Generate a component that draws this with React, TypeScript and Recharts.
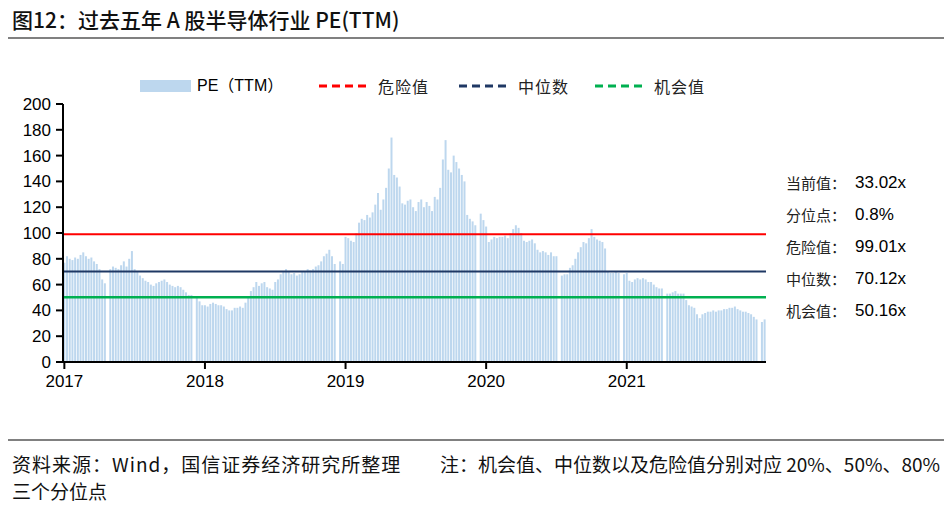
import React from 'react';
import {
  ComposedChart,
  Bar,
  XAxis,
  YAxis,
  ReferenceLine,
} from 'recharts';

// weekly PE(TTM), 52 weeks per year, 2017-2021 (null = no bar that week)
const pe2017 = [
  77, 82, 80, 79, 81, 80, 83, 85, 82, 80, 81, 78, 76, 72, 64, 61, null, 72, 74, 73,
  72, 75, 78, 74, 80, 86, 72, 70, 67, 65, 63, 62, 60, 59, 61, 62, 63, 64, 62, 60,
  59, 58, 59, 58, 56, 54, 52, 52, null, 51, 47, 44,
];
const pe2018 = [
  44, 43, 45, 46, 45, 44, 44, 43, 41, 40, 40, 42, 42, 43, 42, 46, 50, 55, 58, 62,
  59, 61, 62, 58, 57, 56, 62, 64, 68, 70, 72, 70, 68, 69, 67, 68, 70, 70, 72, 71,
  72, 74, 75, 78, 82, 84, 87, 82, 76, null, 78, 76,
];
const pe2019 = [
  97, 96, 94, 93, 100, 108, 111, 110, 114, 112, 116, 122, 131, 118, 126, 135, 150, 174, 145, 143,
  136, 123, 122, 125, 126, 120, 117, 124, 126, 120, 124, 121, 117, 128, 126, 135, 157, 172, 149, 147,
  160, 155, 150, 145, 140, 114, 111, 109, 106, null, 115, 110,
];
const pe2020 = [
  105, 93, 95, 97, 96, 97, 97, 98, 96, 100, 103, 106, 104, 100, 94, 93, 94, 95, 92, 87,
  85, 86, 85, 83, 85, 82, 82, null, 67, 68, 68, 73, 75, 80, 85, 89, 93, 92, 96, 103,
  97, 95, 94, 93, 88, 70, 69, 69, 70, 69, null, 68,
];
const pe2021 = [
  69, 63, 62, 64, 65, 64, 65, 64, 62, 62, 60, 58, 57, 57, null, 53, 53, 54, 55, 53,
  53, 53, 48, 44, 43, 42, 37, 34, 37, 38, 39, 39, 40, 39, 40, 40, 41, 41, 42, 42,
  43, 41, 40, 39, 39, 38, 37, 35, 33, null, 31, 33.02,
];

const years = ['2017', '2018', '2019', '2020', '2021'];
const yTicks = [0, 20, 40, 60, 80, 100, 120, 140, 160, 180, 200];

const dangerValue = 99.01;
const medianValue = 70.12;
const chanceValue = 50.16;

const statLabels = ['当前值：', '分位点：', '危险值：', '中位数：', '机会值：'];
const statValues = ['33.02x', '0.8%', '99.01x', '70.12x', '50.16x'];

const byYear = [pe2017, pe2018, pe2019, pe2020, pe2021];
const rows = byYear.flatMap((vals, yi) =>
  vals.map((v, wi) => ({ week: `${years[yi]}-${wi + 1}`, pe: v }))
);
const yearTicks = years.map((y) => `${y}-1`);

const CJK = '"Noto Sans CJK SC", sans-serif';
const LATIN = '"Liberation Sans", Arial, sans-serif';

function DashSample({ color }: { color: string }) {
  return (
    <svg width={48} height={6} style={{ display: 'block' }}>
      <line x1={0} y1={3} x2={48} y2={3} stroke={color} strokeWidth={3} strokeDasharray="8 5" />
    </svg>
  );
}

export default function App() {
  const legendLines = [
    { label: '危险值', color: '#ff0000', x: 319 },
    { label: '中位数', color: '#1f3864', x: 459 },
    { label: '机会值', color: '#00b050', x: 595 },
  ];

  return (
    <div
      style={{
        position: 'absolute',
        left: 0,
        top: 0,
        width: 952,
        height: 507,
        background: '#fff',
        overflow: 'hidden',
      }}
    >
      <div style={{ position: 'absolute', left: 0, top: 0 }}>
        <ComposedChart
          width={952}
          height={507}
          data={rows}
          margin={{ top: 104, right: 186, bottom: 115, left: 13 }}
          barCategoryGap="12%"
        >
          <XAxis
            dataKey="week"
            ticks={yearTicks}
            interval={0}
            tickFormatter={(v: string) => v.split('-')[0]}
            height={30}
            axisLine={{ stroke: '#000', strokeWidth: 2 }}
            tickLine={{ stroke: '#000', strokeWidth: 2 }}
            tickSize={7}
            tickMargin={6}
            tick={{ fontSize: 17, fill: '#000', fontFamily: LATIN }}
          />
          <YAxis
            domain={[0, 200]}
            ticks={yTicks}
            width={50}
            interval={0}
            axisLine={{ stroke: '#000', strokeWidth: 2 }}
            tickLine={{ stroke: '#000', strokeWidth: 2 }}
            tickSize={7}
            tickMargin={5}
            tick={{ fontSize: 17, fill: '#000', fontFamily: LATIN }}
          />
          <Bar dataKey="pe" fill="#bdd7ee" isAnimationActive={false} />
          <ReferenceLine y={dangerValue} stroke="#ff0000" strokeWidth={2} />
          <ReferenceLine y={medianValue} stroke="#1f3864" strokeWidth={2} />
          <ReferenceLine y={chanceValue} stroke="#00b050" strokeWidth={2.5} />
        </ComposedChart>
      </div>

      {/* title */}
      <div
        style={{
          position: 'absolute',
          left: 12,
          top: 6,
          fontFamily: CJK,
          fontSize: 21,
          fontWeight: 500,
          color: '#111',
          whiteSpace: 'nowrap',
          lineHeight: '26px',
        }}
      >
        图12：过去五年 A 股半导体行业 PE(TTM)
      </div>
      <div style={{ position: 'absolute', left: 8, top: 37, width: 936, height: 2, background: '#808080' }} />

      {/* legend */}
      <div style={{ position: 'absolute', left: 140, top: 80, width: 51, height: 12, background: '#bdd7ee' }} />
      <div
        style={{
          position: 'absolute',
          left: 197,
          top: 75,
          fontFamily: `${LATIN.split(',')[0]}, ${CJK}`,
          fontSize: 16,
          color: '#000',
          lineHeight: '22px',
          whiteSpace: 'nowrap',
        }}
      >
        PE（TTM）
      </div>
      {legendLines.map((l) => (
        <React.Fragment key={l.label}>
          <div style={{ position: 'absolute', left: l.x, top: 83 }}>
            <DashSample color={l.color} />
          </div>
          <div
            style={{
              position: 'absolute',
              left: l.x + 59,
              top: 75,
              fontFamily: CJK,
              fontSize: 16,
              color: '#222',
              lineHeight: '22px',
              letterSpacing: 1,
              whiteSpace: 'nowrap',
            }}
          >
            {l.label}
          </div>
        </React.Fragment>
      ))}

      {/* stats on the right */}
      {statLabels.map((s, i) => (
        <React.Fragment key={s}>
          <div
            style={{
              position: 'absolute',
              left: 786,
              top: 172 + i * 32,
              fontFamily: CJK,
              fontSize: 15,
              color: '#222',
              lineHeight: '22px',
              whiteSpace: 'nowrap',
            }}
          >
            {s}
          </div>
          <div
            style={{
              position: 'absolute',
              left: 855,
              top: 172 + i * 32,
              fontFamily: LATIN,
              fontSize: 17,
              color: '#000',
              lineHeight: '22px',
              whiteSpace: 'nowrap',
            }}
          >
            {statValues[i]}
          </div>
        </React.Fragment>
      ))}

      {/* footer */}
      <div style={{ position: 'absolute', left: 8, top: 439, width: 936, height: 2, background: '#808080' }} />
      <div
        style={{
          position: 'absolute',
          left: 12,
          top: 450,
          fontFamily: CJK,
          fontSize: 19,
          color: '#111',
          lineHeight: '27px',
          whiteSpace: 'nowrap',
          letterSpacing: 1,
        }}
      >
        资料来源：Wind，国信证券经济研究所整理
      </div>
      <div
        style={{
          position: 'absolute',
          left: 440,
          top: 450,
          fontFamily: CJK,
          fontSize: 19,
          color: '#111',
          lineHeight: '27px',
          whiteSpace: 'nowrap',
        }}
      >
        注：机会值、中位数以及危险值分别对应 20%、50%、80%
      </div>
      <div
        style={{
          position: 'absolute',
          left: 12,
          top: 477,
          fontFamily: CJK,
          fontSize: 19,
          color: '#111',
          lineHeight: '27px',
          whiteSpace: 'nowrap',
        }}
      >
        三个分位点
      </div>
    </div>
  );
}
